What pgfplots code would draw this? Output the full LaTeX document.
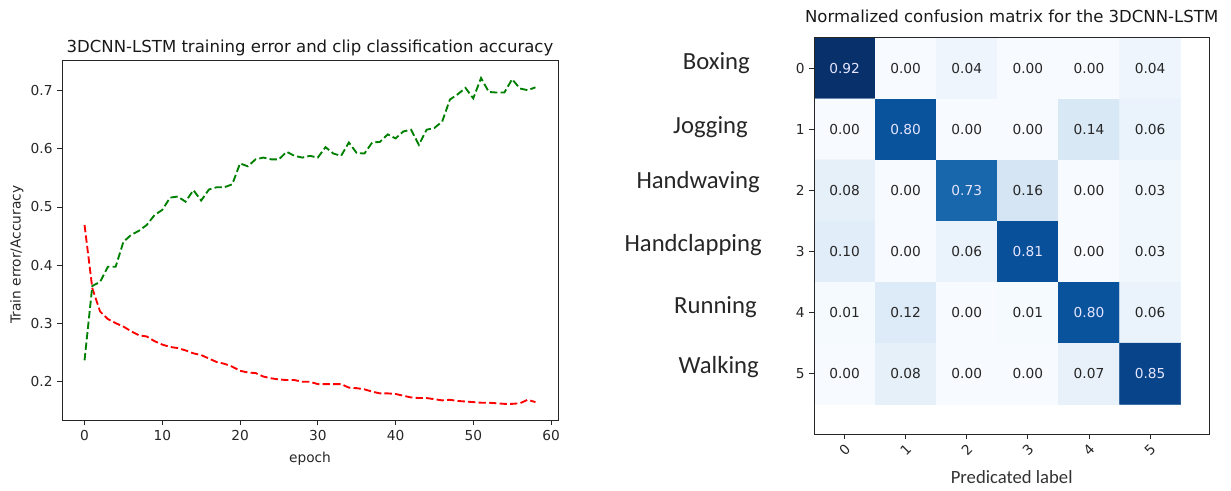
\documentclass[border=0pt]{standalone}
\usepackage{fontspec}
\setmainfont{DejaVu Sans}
\newfontfamily\calibri{Carlito}
\usepackage{pgfplots}
\pgfplotsset{compat=1.18}
\usepackage{pgfplotstable}

\definecolor{mplgreen}{rgb}{0,0.5,0}
\definecolor{mplred}{rgb}{1,0,0}

\newcommand\tickfont{\fontsize{10.3pt}{12pt}\selectfont}
\newcommand\titlefont{\fontsize{12.4pt}{14pt}\selectfont}

% training curves, one row per epoch
\pgfplotstableread{
epoch acc err
0 0.236 0.469
1 0.364 0.360
2 0.371 0.320
3 0.397 0.307
4 0.397 0.300
5 0.440 0.294
6 0.452 0.286
7 0.459 0.279
8 0.469 0.277
9 0.486 0.269
10 0.495 0.263
11 0.516 0.259
12 0.518 0.257
13 0.509 0.253
14 0.529 0.248
15 0.511 0.245
16 0.530 0.239
17 0.534 0.233
18 0.534 0.230
19 0.539 0.225
20 0.575 0.218
21 0.570 0.215
22 0.582 0.214
23 0.585 0.208
24 0.582 0.205
25 0.582 0.203
26 0.595 0.202
27 0.588 0.202
28 0.585 0.199
29 0.588 0.199
30 0.585 0.195
31 0.603 0.195
32 0.592 0.195
33 0.588 0.195
34 0.611 0.189
35 0.593 0.188
36 0.592 0.186
37 0.611 0.182
38 0.612 0.179
39 0.625 0.179
40 0.618 0.178
41 0.630 0.175
42 0.633 0.172
43 0.607 0.171
44 0.633 0.171
45 0.636 0.169
46 0.647 0.167
47 0.685 0.168
48 0.694 0.166
49 0.705 0.165
50 0.687 0.164
51 0.722 0.163
52 0.698 0.163
53 0.697 0.162
54 0.697 0.161
55 0.720 0.161
56 0.704 0.162
57 0.701 0.168
58 0.706 0.164
}\histtable

% normalized confusion matrix, x = predicted, y = true
\pgfplotstableread{
x y C
0 0 0.92
1 0 0.00
2 0 0.04
3 0 0.00
4 0 0.00
5 0 0.04
0 1 0.00
1 1 0.80
2 1 0.00
3 1 0.00
4 1 0.14
5 1 0.06
0 2 0.08
1 2 0.00
2 2 0.73
3 2 0.16
4 2 0.00
5 2 0.03
0 3 0.10
1 3 0.00
2 3 0.06
3 3 0.81
4 3 0.00
5 3 0.03
0 4 0.01
1 4 0.12
2 4 0.00
3 4 0.01
4 4 0.80
5 4 0.06
0 5 0.00
1 5 0.08
2 5 0.00
3 5 0.00
4 5 0.07
5 5 0.85
}\cmtable

\pgfplotsset{
  colormap={mplblues}{rgb255=(247,251,255) rgb255=(222,235,247) rgb255=(198,219,239)
    rgb255=(158,202,225) rgb255=(107,174,214) rgb255=(66,146,198) rgb255=(33,113,181)
    rgb255=(8,81,156) rgb255=(8,48,107)},
  every axis/.append style={
    scale only axis,
    anchor=south west,
    tick align=outside,
    tick pos=left,
    major tick length=3.6pt,
    axis line style={black!85},
    tick style={black!85, line width=0.6pt},
    tick label style={font=\tickfont, text=black!85},
    label style={font=\tickfont, text=black!85},
    title style={font=\titlefont, text=black!90},
    every axis title shift=0pt,
    /pgf/number format/assume math mode=true,
  },
}

\begin{document}
\begin{tikzpicture}
\path[use as bounding box] (0,0) rectangle (923.25pt,368.25pt);

\begin{axis}[
  at={(46.5pt,52.725pt)},
  width=372pt, height=270.5pt,
  xmin=-2.9, xmax=60.9,
  ymin=0.132, ymax=0.753,
  xtick={0,10,...,60},
  ytick={0.2,0.3,...,0.7},
  yticklabel style={/pgf/number format/.cd, fixed, precision=1},
  xlabel={epoch},
  ylabel={Train error/Accuracy},
  ylabel style={at={(axis description cs:-0.091,0.46)}, anchor=center},
  xlabel style={at={(axis description cs:0.5,-0.105)}, anchor=center},
  title={3DCNN-LSTM training error and clip classification accuracy},
  title style={at={(axis description cs:0.5,1)}, anchor=base, yshift=5.5pt},
]
\addplot[mplred, line width=1.4pt, dash pattern=on 5.5pt off 2.4pt] table[x=epoch, y=err] {\histtable};
\addplot[mplgreen, line width=1.4pt, dash pattern=on 5.5pt off 2.4pt] table[x=epoch, y=acc] {\histtable};
\end{axis}

\begin{axis}[
  at={(610.5pt,42.525pt)},
  width=296.5pt, height=297.45pt,
  axis on top,
  xmin=-0.5, xmax=5.97,
  ymin=-0.5, ymax=5.99,
  y dir=reverse,
  xtick={0,...,5}, ytick={0,...,5},
  xticklabel style={anchor=center, yshift=-8pt, rotate=45},
  colormap name=mplblues,
  point meta min=0, point meta max=0.92,
  title={Normalized confusion matrix for the 3DCNN-LSTM},
  title style={at={(axis description cs:0.5,1)}, anchor=base, yshift=11.2pt},
  xlabel={\calibri\fontsize{14pt}{16pt}\selectfont Predicated label},
  xlabel style={at={(axis description cs:0.5,-0.107)}, anchor=center, text=black!80},
]
\addplot[matrix plot*, mesh/cols=6, point meta=explicit] table[x=x, y=y, meta=C] {\cmtable};
\addplot[draw=none, mark=none, point meta=\thisrow{C},
  restrict expr to domain={\thisrow{C}}{0:0.46},
  nodes near coords={\pgfmathprintnumber[fixed, fixed zerofill, precision=2]{\pgfplotspointmeta}},
  every node near coord/.append style={anchor=center, font=\tickfont, text=black!85}]
  table[x=x, y=y] {\cmtable};
\addplot[draw=none, mark=none, point meta=\thisrow{C},
  restrict expr to domain={\thisrow{C}}{0.46:1},
  nodes near coords={\pgfmathprintnumber[fixed, fixed zerofill, precision=2]{\pgfplotspointmeta}},
  every node near coord/.append style={anchor=center, font=\tickfont, text=white!90!blue}]
  table[x=x, y=y] {\cmtable};
\end{axis}

% class names beside the rows
\begin{scope}[every node/.style={anchor=east, inner sep=0pt, font=\calibri\fontsize{18.5pt}{20pt}\selectfont, text=black!85}]
\node at (562.5pt,321pt) {Boxing};
\node at (561pt,273pt) {Jogging};
\node at (570pt,231.75pt) {Handwaving};
\node at (571.5pt,184.5pt) {Handclapping};
\node at (567.75pt,138pt) {Running};
\node at (569.25pt,93pt) {Walking};
\end{scope}
\end{tikzpicture}
\end{document}
